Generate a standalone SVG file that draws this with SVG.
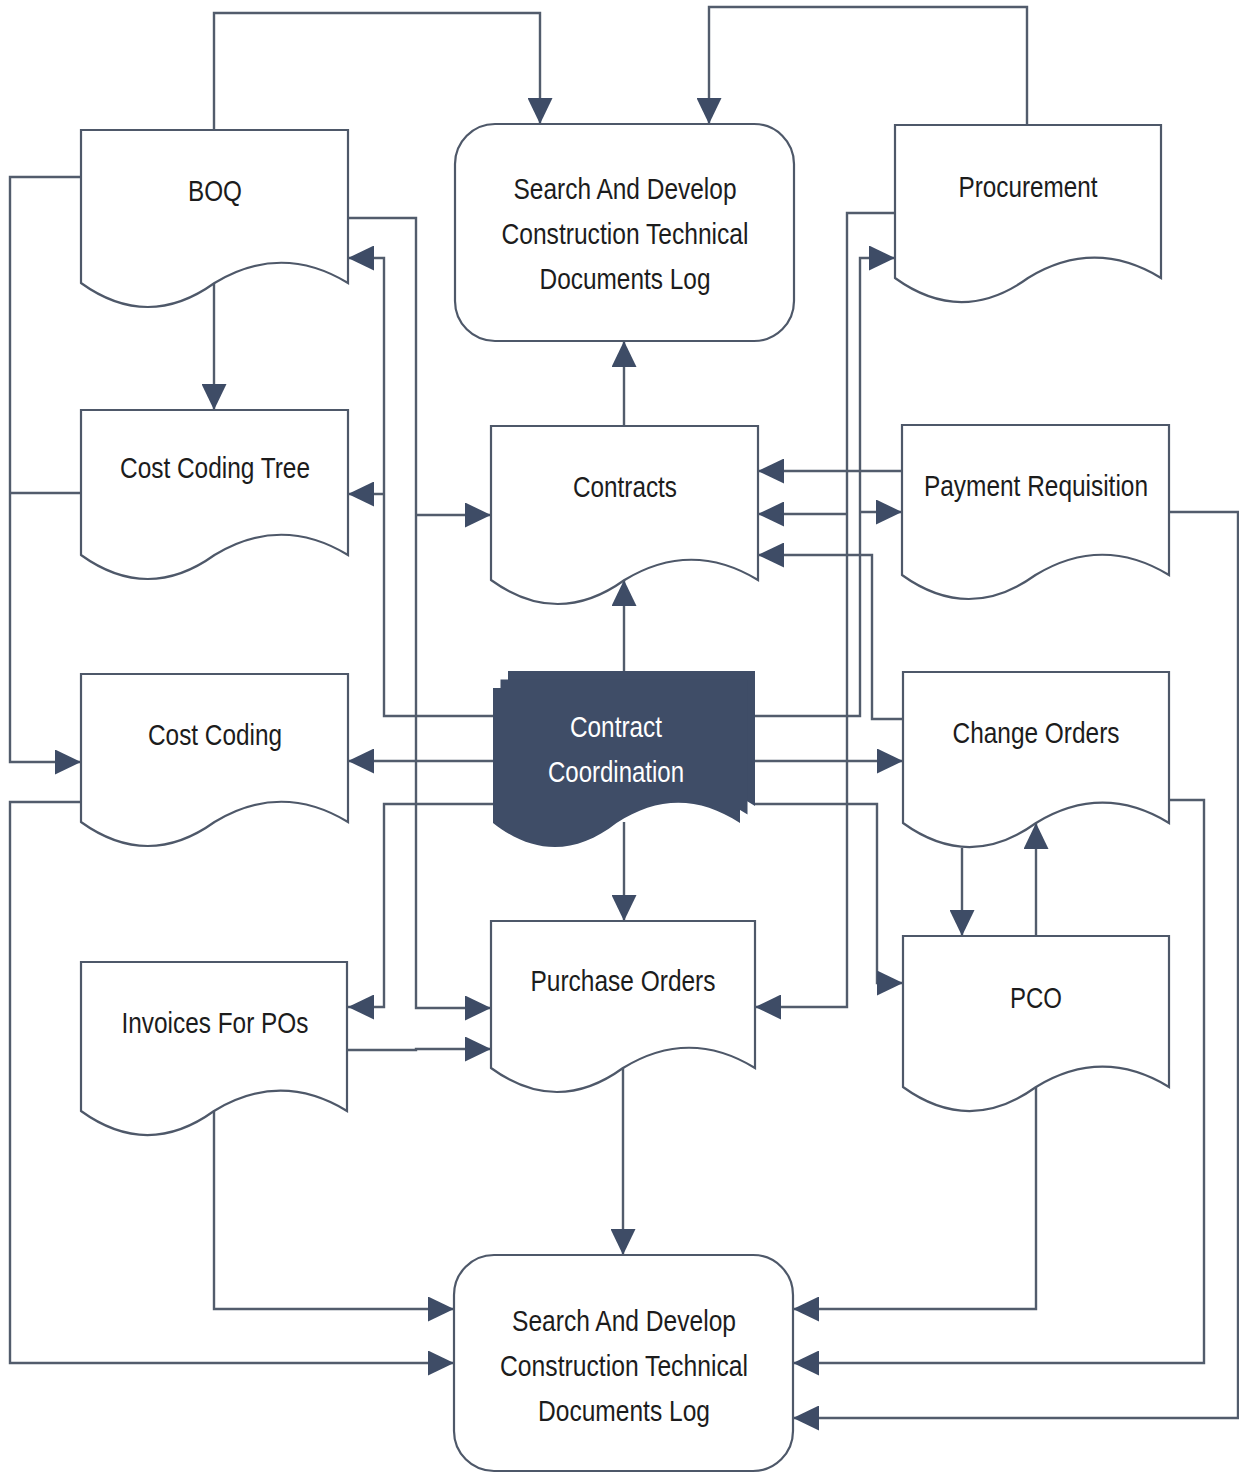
<svg xmlns="http://www.w3.org/2000/svg" width="1239" height="1473" viewBox="0 0 1239 1473">
  <defs>
    <style>
      .doc { fill: #ffffff; stroke: #4e5869; stroke-width: 2.2; }
      .term { fill: #ffffff; stroke: #4e5869; stroke-width: 2.2; }
      .multi { fill: #3f4d67; stroke: none; }
      .wire { fill: none; stroke: #525c6c; stroke-width: 2.4; marker-end: url(#head); }
      .plain { fill: none; stroke: #525c6c; stroke-width: 2.4; }
      .label { font-family: "Liberation Sans Narrow", "Arial Narrow", "Liberation Sans", Arial, sans-serif; font-size: 29.5px; fill: #1c1c1c; text-anchor: middle; }
      .label-inv { fill: #ffffff; }
    </style>
    <marker id="head" markerUnits="userSpaceOnUse" markerWidth="26" markerHeight="25" viewBox="0 0 26 25" refX="26" refY="12.5" orient="auto">
      <path d="M0,0 L26,12.5 L0,25 Z" fill="#3e4c66"/>
    </marker>
  </defs>

  <rect width="1239" height="1473" fill="#ffffff"/>

  <!-- connectors -->
  <g id="connectors">
    <path class="wire" d="M214,130 V13 H540 V124"/>
    <path class="wire" d="M1027,125 V7 H709 V124"/>
    <path class="wire" d="M81,177 H10 V762 H81"/>
    <path class="plain" d="M81,493 H10"/>
    <path class="wire" d="M81,802 H10 V1363 H454"/>
    <path class="wire" d="M214,283 V410"/>
    <path class="wire" d="M348,218 H416 V1008 H491"/>
    <path class="wire" d="M416,515 H491"/>
    <path class="wire" d="M493,716 H384 V258 H348"/>
    <path class="wire" d="M384,494 H348"/>
    <path class="wire" d="M624,671 V580"/>
    <path class="wire" d="M624,426 V341"/>
    <path class="wire" d="M493,761 H348"/>
    <path class="wire" d="M493,804 H384 V1007 H348"/>
    <path class="wire" d="M624,822 V921"/>
    <path class="wire" d="M623,1068 V1255"/>
    <path class="wire" d="M214,1111 V1309 H454"/>
    <path class="wire" d="M347,1050 H416 V1049 H491"/>
    <path class="wire" d="M895,213 H847 V1007 H755"/>
    <path class="wire" d="M847,514 H758"/>
    <path class="wire" d="M755,716 H860 V258 H895"/>
    <path class="wire" d="M860,512 H902"/>
    <path class="wire" d="M902,471 H758"/>
    <path class="wire" d="M903,719 H872 V555 H758"/>
    <path class="wire" d="M755,761 H903"/>
    <path class="wire" d="M755,804 H877 V983 H903"/>
    <path class="wire" d="M962,848 V936"/>
    <path class="wire" d="M1036,936 V823"/>
    <path class="wire" d="M1036,1087 V1309 H793"/>
    <path class="wire" d="M1169,800 H1204 V1363 H793"/>
    <path class="wire" d="M1169,512 H1238 V1418 H793"/>
  </g>

  <!-- log terminals -->
  <g id="log-top">
    <rect class="term" x="455" y="124" width="339" height="217" rx="40" ry="40"/>
    <text class="label" x="625" y="199" textLength="223" lengthAdjust="spacingAndGlyphs">Search And Develop</text>
    <text class="label" x="625" y="244" textLength="247" lengthAdjust="spacingAndGlyphs">Construction Technical</text>
    <text class="label" x="625" y="289" textLength="171" lengthAdjust="spacingAndGlyphs">Documents Log</text>
  </g>

  <g id="log-bottom">
    <rect class="term" x="454" y="1255" width="339" height="216" rx="40" ry="40"/>
    <text class="label" x="624" y="1331" textLength="224" lengthAdjust="spacingAndGlyphs">Search And Develop</text>
    <text class="label" x="624" y="1376" textLength="248" lengthAdjust="spacingAndGlyphs">Construction Technical</text>
    <text class="label" x="624" y="1421" textLength="172" lengthAdjust="spacingAndGlyphs">Documents Log</text>
  </g>

  <!-- documents -->
  <g id="boq">
    <path class="doc" d="M81,130 H348 V283 C303.5,256 259,256 214.5,283 C170,315 125.5,315 81,283 Z"/>
    <text class="label" x="215" y="201" textLength="54" lengthAdjust="spacingAndGlyphs">BOQ</text>
  </g>

  <g id="cost-coding-tree">
    <path class="doc" d="M81,410 H348 V555 C303.5,528 259,528 214.5,555 C170,587 125.5,587 81,555 Z"/>
    <text class="label" x="215" y="478" textLength="190" lengthAdjust="spacingAndGlyphs">Cost Coding Tree</text>
  </g>

  <g id="cost-coding">
    <path class="doc" d="M81,674 H348 V822 C303.5,795 259,795 214.5,822 C170,854 125.5,854 81,822 Z"/>
    <text class="label" x="215" y="745" textLength="134" lengthAdjust="spacingAndGlyphs">Cost Coding</text>
  </g>

  <g id="invoices">
    <path class="doc" d="M81,962 H347 V1111 C302.7,1084 258.3,1084 214,1111 C169.7,1143 125.3,1143 81,1111 Z"/>
    <text class="label" x="215" y="1033" textLength="187" lengthAdjust="spacingAndGlyphs">Invoices For POs</text>
  </g>

  <g id="contracts">
    <path class="doc" d="M491,426 H758 V580 C713.5,553 669,553 624.5,580 C580,612 535.5,612 491,580 Z"/>
    <text class="label" x="625" y="497" textLength="104" lengthAdjust="spacingAndGlyphs">Contracts</text>
  </g>

  <g id="purchase-orders">
    <path class="doc" d="M491,921 H755 V1068 C711,1041 667,1041 623,1068 C579,1100 535,1100 491,1068 Z"/>
    <text class="label" x="623" y="991" textLength="185" lengthAdjust="spacingAndGlyphs">Purchase Orders</text>
  </g>

  <g id="procurement">
    <path class="doc" d="M895,125 H1161 V278 C1116.7,251 1072.3,251 1028,278 C983.7,310 939.3,310 895,278 Z"/>
    <text class="label" x="1028" y="197" textLength="139" lengthAdjust="spacingAndGlyphs">Procurement</text>
  </g>

  <g id="payment-requisition">
    <path class="doc" d="M902,425 H1169 V575 C1124.5,548 1080,548 1035.5,575 C991,607 946.5,607 902,575 Z"/>
    <text class="label" x="1036" y="496" textLength="224" lengthAdjust="spacingAndGlyphs">Payment Requisition</text>
  </g>

  <g id="change-orders">
    <path class="doc" d="M903,672 H1169 V823 C1124.7,796 1080.3,796 1036,823 C991.7,855 947.3,855 903,823 Z"/>
    <text class="label" x="1036" y="743" textLength="167" lengthAdjust="spacingAndGlyphs">Change Orders</text>
  </g>

  <g id="pco">
    <path class="doc" d="M903,936 H1169 V1087 C1124.7,1060 1080.3,1060 1036,1087 C991.7,1119 947.3,1119 903,1087 Z"/>
    <text class="label" x="1036" y="1008" textLength="52" lengthAdjust="spacingAndGlyphs">PCO</text>
  </g>

  <!-- stacked document, drawn back to front -->
  <g id="contract-coordination">
    <path class="multi" d="M508,671 H755 V806 C713.8,779 672.7,779 631.5,806 C590.3,838 549.2,838 508,806 Z"/>
    <path class="multi" d="M500.5,679.5 H747.5 V814.5 C706.3,787.5 665.2,787.5 624,814.5 C582.8,846.5 541.7,846.5 500.5,814.5 Z"/>
    <path class="multi" d="M493,688 H740 V823 C698.8,796 657.7,796 616.5,823 C575.3,855 534.2,855 493,823 Z"/>
    <text class="label label-inv" x="616" y="737" textLength="92" lengthAdjust="spacingAndGlyphs">Contract</text>
    <text class="label label-inv" x="616" y="782" textLength="136" lengthAdjust="spacingAndGlyphs">Coordination</text>
  </g>
</svg>
